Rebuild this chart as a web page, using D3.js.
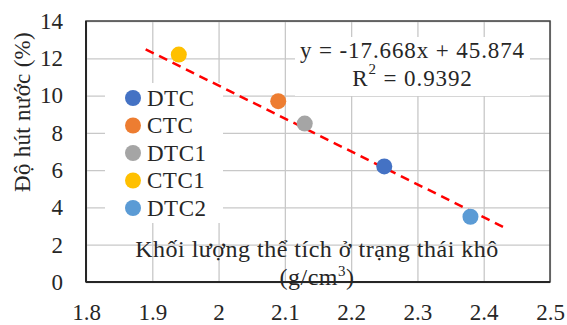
<!DOCTYPE html>
<html>
<head>
<meta charset="utf-8">
<script src="https://cdnjs.cloudflare.com/ajax/libs/d3/7.8.5/d3.min.js"></script>
<style>
	body { margin: 0; background: #fff; }
	text { font-family: "Liberation Serif", serif; fill: #262626; }
</style>
</head>
<body>
<svg id="vis"></svg>
<script>
// data
var seriesNames = ["DTC", "CTC", "DTC1", "CTC1", "DTC2"];
var densityValues = [2.25, 2.09, 2.13, 1.94, 2.38];   // g/cm3
var absorptionValues = [6.2, 9.7, 8.5, 12.2, 3.5];   // %
var xTicks = [1.8, 1.9, 2, 2.1, 2.2, 2.3, 2.4, 2.5];
var yTicks = [0, 2, 4, 6, 8, 10, 12, 14];
var trendSlope = -17.668;
var trendIntercept = 45.874;
var trendRange = [1.89, 2.43];
var rSquared = 0.9392;

var colors = ["#4472C4", "#ED7D31", "#A5A5A5", "#FFC000", "#5B9BD5"];

var width = 567, height = 325;
var margin = {top: 21, right: 17, bottom: 43, left: 86};
var innerW = width - margin.left - margin.right;
var innerH = height - margin.top - margin.bottom;

var svg = d3.select("svg#vis")
	.attr("width", width)
	.attr("height", height);

svg.append("rect")
	.attr("width", width)
	.attr("height", height)
	.attr("fill", "#fff");

var inner = svg.append("g")
	.attr("transform", "translate(" + margin.left + "," + margin.top + ")");

var xScale = d3.scaleLinear().domain([1.8, 2.5]).range([0, innerW]);
var yScale = d3.scaleLinear().domain([0, 14]).range([innerH, 0]);

// gridlines
inner.append("g")
	.call(d3.axisBottom(xScale).tickValues(xTicks).tickSize(innerH).tickFormat(""))
	.call(function(g) {
		g.select(".domain").remove();
		g.selectAll("line").attr("stroke", "#c8c8c8").attr("stroke-width", 1.3);
	});
inner.append("g")
	.call(d3.axisLeft(yScale).tickValues(yTicks).tickSize(-innerW).tickFormat(""))
	.call(function(g) {
		g.select(".domain").remove();
		g.selectAll("line").attr("stroke", "#c8c8c8").attr("stroke-width", 1.3);
	});

// tick labels
inner.append("g")
	.attr("transform", "translate(0," + innerH + ")")
	.call(d3.axisBottom(xScale).tickValues(xTicks).tickSize(0).tickPadding(22).tickFormat(d3.format("")))
	.call(function(g) {
		g.select(".domain").remove();
		g.selectAll("text").attr("font-size", 23).attr("font-family", "Liberation Serif").attr("fill", "#262626");
	});
inner.append("g")
	.call(d3.axisLeft(yScale).tickValues(yTicks).tickSize(0).tickPadding(23))
	.call(function(g) {
		g.select(".domain").remove();
		g.selectAll("text").attr("font-size", 23).attr("font-family", "Liberation Serif").attr("fill", "#262626");
	});

// plot border
inner.append("rect")
	.attr("width", innerW)
	.attr("height", innerH)
	.attr("fill", "none")
	.attr("stroke", "#404040")
	.attr("stroke-width", 1.5);
inner.append("line")
	.attr("x1", 0).attr("x2", innerW)
	.attr("y1", innerH).attr("y2", innerH)
	.attr("stroke", "#262626").attr("stroke-width", 2);
inner.append("line")
	.attr("x1", 0).attr("x2", 0)
	.attr("y1", 0).attr("y2", innerH)
	.attr("stroke", "#262626").attr("stroke-width", 2);

// axis titles (x title sits inside the plot, no background)
var xTitle = inner.append("text")
	.attr("x", 317 - margin.left)
	.attr("text-anchor", "middle")
	.attr("font-size", 24)
	.attr("letter-spacing", 0.5);
xTitle.append("tspan").attr("x", 317 - margin.left).attr("y", 257 - margin.top)
	.text("Khối lượng thể tích ở trạng thái khô");
var xTitle2 = xTitle.append("tspan").attr("x", 317 - margin.left).attr("y", 285 - margin.top);
xTitle2.append("tspan").text("(g/cm");
xTitle2.append("tspan").attr("font-size", 15).attr("dy", -9).text("3");
xTitle2.append("tspan").attr("dy", 9).text(")");

svg.append("text")
	.attr("transform", "translate(22,112) rotate(-90)")
	.attr("text-anchor", "middle")
	.attr("dominant-baseline", "central")
	.attr("font-size", 23)
	.attr("letter-spacing", 0.3)
	.text("Độ hút nước (%)");

// legend box
var legend = inner.append("g")
	.attr("transform", "translate(" + (105 - margin.left) + "," + (83 - margin.top) + ")");
legend.append("rect")
	.attr("width", 118)
	.attr("height", 140)
	.attr("fill", "#fff");
seriesNames.forEach(function(name, i) {
	var row = legend.append("g").attr("transform", "translate(0," + (15 + i * 27.5) + ")");
	row.append("circle").attr("cx", 28).attr("r", 8).attr("fill", colors[i]);
	row.append("text")
		.attr("x", 42)
		.attr("dominant-baseline", "central")
		.attr("font-size", 23)
		.attr("letter-spacing", 0.5)
		.text(name);
});

// trendline label box
var eq = inner.append("g")
	.attr("transform", "translate(" + (295 - margin.left) + "," + (37 - margin.top) + ")");
eq.append("rect")
	.attr("width", 235)
	.attr("height", 59)
	.attr("fill", "#fff");
eq.append("text")
	.attr("x", 117.5)
	.attr("y", 13)
	.attr("text-anchor", "middle")
	.attr("dominant-baseline", "central")
	.attr("font-size", 23)
	.attr("letter-spacing", 0.9)
	.text("y = " + trendSlope + "x + " + trendIntercept);
var r2 = eq.append("text")
	.attr("x", 117.5)
	.attr("y", 41)
	.attr("text-anchor", "middle")
	.attr("dominant-baseline", "central")
	.attr("font-size", 23)
	.attr("letter-spacing", 0.9);
r2.append("tspan").text("R");
r2.append("tspan").attr("font-size", 15).attr("dy", -9).text("2");
r2.append("tspan").attr("dy", 9).text(" = " + rSquared);

// trendline
inner.append("line")
	.attr("x1", xScale(trendRange[0]))
	.attr("y1", yScale(trendSlope * trendRange[0] + trendIntercept))
	.attr("x2", xScale(trendRange[1]))
	.attr("y2", yScale(trendSlope * trendRange[1] + trendIntercept))
	.attr("stroke", "#ff0000")
	.attr("stroke-width", 2.5)
	.attr("stroke-dasharray", "9,6");

// points
inner.selectAll("circle.point")
	.data(seriesNames)
	.enter().append("circle")
	.attr("class", "point")
	.attr("cx", function(d, i) { return xScale(densityValues[i]); })
	.attr("cy", function(d, i) { return yScale(absorptionValues[i]); })
	.attr("r", 8)
	.attr("fill", function(d, i) { return colors[i]; });
</script>
</body>
</html>
